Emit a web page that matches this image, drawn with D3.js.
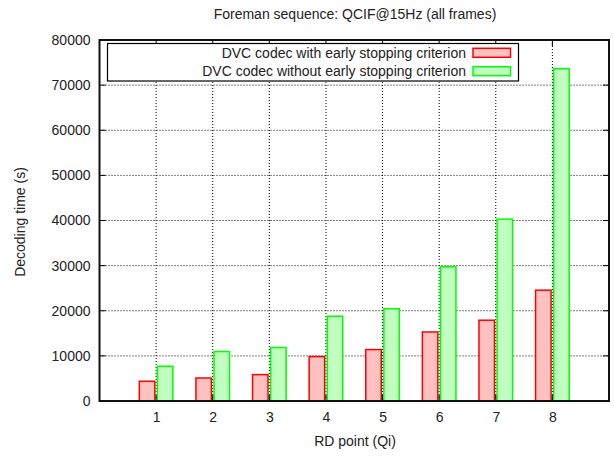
<!DOCTYPE html>
<html><head><meta charset="utf-8">
<script src="https://cdn.jsdelivr.net/npm/d3@7"></script>
<style>body{margin:0;background:#fff}svg{display:block}text{font-family:"Liberation Sans",Arial,sans-serif;fill:#222}</style>
</head><body>
<svg id="c" width="614" height="457"></svg>
<script>
const categories = [1,2,3,4,5,6,7,8];
const withStop = [4370,5100,5850,9850,11400,15300,17900,24560];
const withoutStop = [7700,10960,11850,18790,20450,29730,40300,73650];
const yTicks = [0,10000,20000,30000,40000,50000,60000,70000,80000];
const seriesNames = ["DVC codec with early stopping criterion","DVC codec without early stopping criterion"];
const strokes = ["#ff0000","#00ff00"];
const fills = ["#ffc0c0","#c0ffc0"];

const svg = d3.select("#c");
const L=99.5, R=609, T=40, B=401;
const x = d3.scaleLinear().domain([0,9]).range([L,R]);
const y = d3.scaleLinear().domain([0,80000]).range([B,T]);

// grid
const g = svg.append("g");
g.selectAll("line.gx").data(categories).enter().append("line")
 .attr("x1",d=>x(d)).attr("x2",d=>x(d)).attr("y1",T).attr("y2",B)
 .attr("stroke","#000").attr("stroke-width",1).attr("stroke-dasharray","1,2");
g.selectAll("line.gy").data(yTicks.slice(1,-1)).enter().append("line")
 .attr("x1",L).attr("x2",R).attr("y1",d=>y(d)).attr("y2",d=>y(d))
 .attr("stroke","#000").attr("stroke-width",1).attr("stroke-dasharray","1,2");

// bars
const series = [withStop, withoutStop];
series.forEach((vals,si)=>{
  svg.append("g").selectAll("rect").data(categories).enter().append("rect")
   .attr("x",(d,i)=> si===0 ? x(d)-1.3-15.5 : x(d)+1.3)
   .attr("width",15.5)
   .attr("y",(d,i)=>y(vals[i]))
   .attr("height",(d,i)=>y(0)-y(vals[i]))
   .attr("fill",fills[si]).attr("stroke",strokes[si]).attr("stroke-width",1.5);
});

// axes
const yAxis = d3.axisLeft(y).tickValues(yTicks).tickSize(0).tickPadding(9).tickFormat(d3.format("d"));
const ya = svg.append("g").attr("transform",`translate(${L},0)`).call(yAxis);
ya.select(".domain").remove();
ya.selectAll("text").style("font-size","14px").attr("fill","#222");
const xAxis = d3.axisBottom(x).tickValues(categories).tickSize(0).tickPadding(11);
const xa = svg.append("g").attr("transform",`translate(0,${B})`).call(xAxis);
xa.select(".domain").remove();
xa.selectAll("text").style("font-size","14px").attr("fill","#222");

// ticks (inward, mirrored)
const tk = svg.append("g").attr("stroke","#000").attr("stroke-width",1);
yTicks.forEach(v=>{
  tk.append("line").attr("x1",L).attr("x2",L+6).attr("y1",y(v)).attr("y2",y(v));
  tk.append("line").attr("x1",R).attr("x2",R-6).attr("y1",y(v)).attr("y2",y(v));
});
categories.forEach(v=>{
  tk.append("line").attr("x1",x(v)).attr("x2",x(v)).attr("y1",B).attr("y2",B-6);
  tk.append("line").attr("x1",x(v)).attr("x2",x(v)).attr("y1",T).attr("y2",T+6);
});

// frame
svg.append("rect").attr("x",L).attr("y",T).attr("width",R-L).attr("height",B-T)
 .attr("fill","none").attr("stroke","#111").attr("stroke-width",2);

// legend
svg.append("rect").attr("x",107.5).attr("y",43.5).attr("width",411).attr("height",37.5)
 .attr("fill","#fff").attr("stroke","#000").attr("stroke-width",1.2);
seriesNames.forEach((n,i)=>{
  const cy = 52.8 + i*18.4;
  svg.append("text").attr("x",466).attr("y",cy).attr("dy","0.35em").attr("text-anchor","end")
   .style("font-size","14px").text(n);
  svg.append("rect").attr("x",473).attr("y",cy-4.5).attr("width",37.5).attr("height",9)
   .attr("fill",fills[i]).attr("stroke",strokes[i]).attr("stroke-width",1.5);
});

// titles
svg.append("text").attr("x",355).attr("y",14).attr("dy","0.35em").attr("text-anchor","middle")
 .style("font-size","14px").text("Foreman sequence: QCIF@15Hz (all frames)");
svg.append("text").attr("x",355).attr("y",441).attr("dy","0.35em").attr("text-anchor","middle")
 .style("font-size","14px").text("RD point (Qi)");
svg.append("text").attr("transform","translate(20,222) rotate(-90)").attr("dy","0.35em").attr("text-anchor","middle")
 .style("font-size","14px").text("Decoding time (s)");
</script>
</body></html>
